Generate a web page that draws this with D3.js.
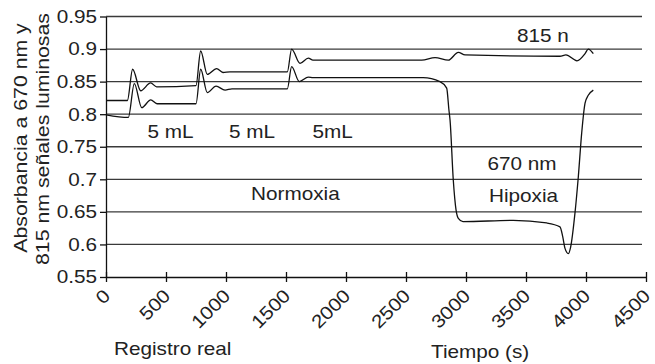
<!DOCTYPE html>
<html lang="es">
  <head>
    <meta charset="utf-8" />
    <title>Absorbancia 670 / 815 nm</title>
    <script src="https://d3js.org/d3.v7.min.js"></script>
    <style>
      body { margin: 0; background: #fff; }
      text { font-family: "Liberation Sans", Arial, sans-serif; fill: #222; }
    </style>
  </head>
  <body>
    <script type="text/javascript">
      // tick values and labels
      const yTicks = [0.55, 0.6, 0.65, 0.7, 0.75, 0.8, 0.85, 0.9, 0.95];
      const yTickLabels = ["0.55", "0.6", "0.65", "0.7", "0.75", "0.8", "0.85", "0.9", "0.95"];
      const xTicks = [0, 500, 1000, 1500, 2000, 2500, 3000, 3500, 4000, 4500];
      const xTickLabels = ["0", "500", "1000", "1500", "2000", "2500", "3000", "3500", "4000", "4500"];

      // 815 nm trace
      const t815 = [0, 178, 222, 289, 372, 422, 750, 789, 844, 922, 975, 1033, 1511, 1547, 1617, 1686, 1725,
        2631, 2742, 2853, 2936, 2992, 3783, 3833, 3925, 3992, 4019, 4061];
      const v815 = [0.821, 0.821, 0.869, 0.836, 0.848, 0.842, 0.844, 0.897, 0.861, 0.87, 0.864, 0.865, 0.865, 0.9, 0.878, 0.886, 0.883,
        0.883, 0.887, 0.883, 0.895, 0.891, 0.889, 0.891, 0.882, 0.893, 0.9, 0.893];

      // 670 nm trace
      const t670 = [0, 186, 236, 298, 373, 425, 750, 789, 844, 917, 992, 1050, 1511, 1547, 1611, 1686, 1725,
        2642, 2783, 2839, 2858, 2867, 2894, 2917, 2936, 2975, 3394, 3672, 3783, 3806, 3825, 3853, 3872,
        3908, 3936, 3964, 3992, 4019, 4061];
      const v670 = [0.799, 0.795, 0.847, 0.81, 0.822, 0.816, 0.816, 0.869, 0.833, 0.843, 0.837, 0.839, 0.839, 0.873, 0.85, 0.857, 0.856,
        0.856, 0.85, 0.84, 0.806, 0.791, 0.699, 0.653, 0.64, 0.635, 0.637, 0.633, 0.627, 0.612, 0.594, 0.586, 0.596,
        0.648, 0.704, 0.771, 0.817, 0.829, 0.837];

      const w = 655;
      const h = 364;
      const k = 1.12; // the original font runs wider than Arial

      const x = d3.scaleLinear().domain([0, 4500]).range([106, 646]);
      const y = d3.scaleLinear().domain([0.55, 0.95]).range([277, 16.5]);

      const svg = d3.select("body").append("svg").attr("width", w).attr("height", h);

      function widen(sel) {
        sel.each(function () {
          const len = this.getComputedTextLength();
          d3.select(this).attr("textLength", len * k).attr("lengthAdjust", "spacingAndGlyphs");
        });
      }

      // horizontal grid
      svg.selectAll("line.grid")
        .data(yTicks.slice(1))
        .enter()
        .append("line")
        .attr("class", "grid")
        .attr("x1", 106)
        .attr("x2", 642)
        .attr("y1", (d) => y(d))
        .attr("y2", (d) => y(d))
        .attr("stroke", "#3a3a3a")
        .attr("stroke-width", 1.3);

      // y axis
      const yAxis = d3.axisLeft(y)
        .tickValues(yTicks)
        .tickFormat((d, i) => yTickLabels[i])
        .tickSizeInner(6)
        .tickSizeOuter(0)
        .tickPadding(3);
      const gy = svg.append("g").attr("transform", "translate(106,0)").call(yAxis);
      gy.selectAll("text").attr("font-size", "18.5px").attr("font-family", null).attr("fill", "#222").call(widen);
      gy.selectAll("path, line").attr("stroke", "#111").attr("stroke-width", 1.3);

      // x axis
      const xAxis = d3.axisBottom(x)
        .tickValues(xTicks)
        .tickFormat((d, i) => xTickLabels[i])
        .tickSizeInner(5)
        .tickSizeOuter(0);
      const gx = svg.append("g").attr("transform", "translate(0,277)").call(xAxis);
      gx.selectAll(".tick line").attr("y1", -5);
      gx.selectAll("path, line").attr("stroke", "#111").attr("stroke-width", 1.3);
      gx.selectAll("text")
        .attr("x", null)
        .attr("y", null)
        .attr("dy", null)
        .attr("text-anchor", "end")
        .attr("transform", "translate(5,20) rotate(-45)")
        .attr("font-size", "18.5px")
        .attr("font-family", null)
        .attr("fill", "#222")
        .call(widen);

      // traces
      const line = d3.line()
        .x((d) => x(d[0]))
        .y((d) => y(d[1]))
        .curve(d3.curveMonotoneX);

      [[t815, v815], [t670, v670]].forEach(([ts, vs]) => {
        svg.append("path")
          .datum(ts.map((t, i) => [t, vs[i]]))
          .attr("d", line)
          .attr("fill", "none")
          .attr("stroke", "#111")
          .attr("stroke-width", 1.3);
      });

      // annotations
      const notes = [
        ["815 n", 517, 41.5],
        ["5 mL", 147.5, 138],
        ["5 mL", 229, 138],
        ["5mL", 312.5, 138],
        ["670 nm", 487.5, 170],
        ["Hipoxia", 489, 202],
        ["Normoxia", 251, 200],
        ["Registro real", 114, 355],
        ["Tiempo (s)", 431, 358],
      ];
      svg.selectAll("text.note")
        .data(notes)
        .enter()
        .append("text")
        .attr("class", "note")
        .attr("x", (d) => d[1])
        .attr("y", (d) => d[2])
        .attr("font-size", "18.5px")
        .text((d) => d[0])
        .call(widen);

      // y title, two lines
      const yTitle = svg.append("g").attr("transform", "rotate(-90)");
      yTitle.append("text")
        .attr("x", -138)
        .attr("y", 26.8)
        .attr("text-anchor", "middle")
        .attr("font-size", "19px")
        .text("Absorbancia a 670 nm y")
        .call(widen);
      yTitle.append("text")
        .attr("x", -139)
        .attr("y", 49)
        .attr("text-anchor", "middle")
        .attr("font-size", "19px")
        .text("815 nm señales luminosas")
        .call(widen);
    </script>
  </body>
</html>
